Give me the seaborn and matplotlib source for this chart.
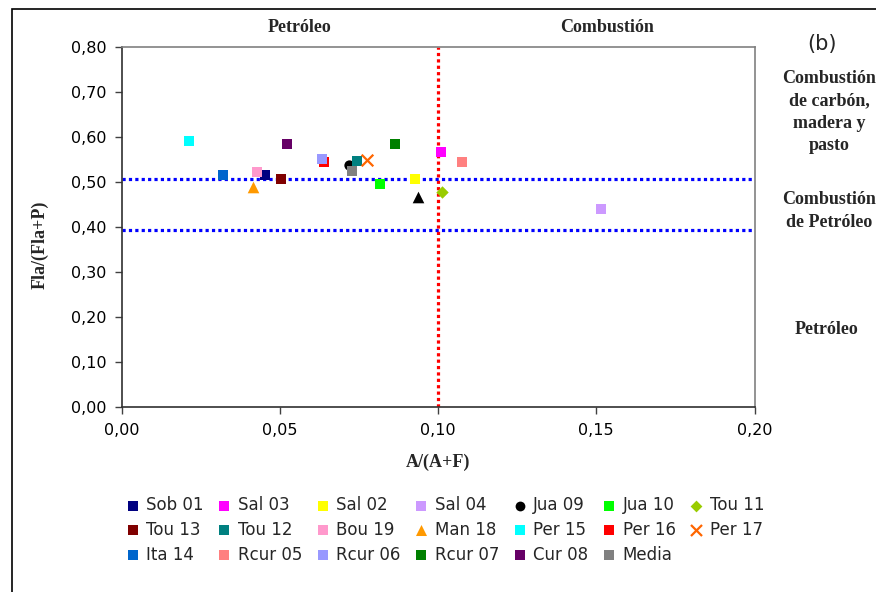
import matplotlib
matplotlib.use('Agg')
import matplotlib.pyplot as plt
import seaborn as sns
import numpy as np
import pandas as pd
from matplotlib.ticker import FuncFormatter
from matplotlib.patches import Rectangle

# ---------------- data ----------------
series = ['Sob 01', 'Sal 03', 'Sal 02', 'Sal 04', 'Jua 09', 'Jua 10', 'Tou 11',
          'Tou 13', 'Tou 12', 'Bou 19', 'Man 18', 'Per 15', 'Per 16', 'Per 17',
          'Ita 14', 'Rcur 05', 'Rcur 06', 'Rcur 07', 'Cur 08', 'Media']
x_vals = [0.0454, 0.1010, 0.0927, 0.1515, 0.0718, 0.0817, 0.1013,
          0.0505, 0.0744, 0.0428, 0.0415, 0.0212, 0.0640, 0.0776,
          0.0322, 0.1076, 0.0633, 0.0865, 0.0522, 0.0728]
y_vals = [0.514, 0.565, 0.507, 0.440, 0.536, 0.495, 0.476,
          0.507, 0.547, 0.522, 0.489, 0.590, 0.543, 0.548,
          0.514, 0.543, 0.550, 0.583, 0.583, 0.524]
colors = ['#000080', '#FF00FF', '#FFFF00', '#CC99FF', '#000000', '#00FF00', '#99CC00',
          '#800000', '#008080', '#FF99CC', '#FF9900', '#00FFFF', '#FF0000', '#FF6600',
          '#0066CC', '#FF8080', '#9999FF', '#008000', '#660066', '#808080']
markers = ['s', 's', 's', 's', 'o', 's', 'D',
           's', 's', 's', '^', 's', 's', 'x',
           's', 's', 's', 's', 's', 's']
# unlabelled point (black triangle)
extra_x = [0.0936]
extra_y = [0.467]

h_limits = [0.505, 0.392]
v_limit = [0.10]

x_ticks = [0.00, 0.05, 0.10, 0.15, 0.20]
y_ticks = [0.0, 0.1, 0.2, 0.3, 0.4, 0.5, 0.6, 0.7, 0.8]

# ---------------- figure ----------------
sns.set_theme(style='white')
plt.rcParams['font.family'] = ['DejaVu Sans']

W, H = 876, 592
fig = plt.figure(figsize=(W / 100, H / 100), dpi=100)
L, R, T, B = 121.5, 754.5, 46.7, 406.7
ax = fig.add_axes([L / W, 1 - B / H, (R - L) / W, (B - T) / H])
ax.set_facecolor('white')

for xv in v_limit:
    ax.axvline(xv, color='#FF0000', lw=2.3, ls=(0, (1, 1)), zorder=1)
for yv in h_limits:
    ax.axhline(yv, color='#0000FF', lw=2.3, ls=(0, (1, 1)), zorder=1)

sizes = {'s': 55, 'o': 55, 'D': 40, '^': 70, 'x': 70}
for name, xv, yv, c, m in zip(series, x_vals, y_vals, colors, markers):
    df = pd.DataFrame({'x': [xv], 'y': [yv]})
    kw = dict(linewidths=1.6) if m == 'x' else dict(linewidth=0)
    sns.scatterplot(data=df, x='x', y='y', marker=m, color=c, s=sizes[m],
                    label=name, ax=ax, zorder=3, **kw)
sns.scatterplot(x=extra_x, y=extra_y, marker='^', color='#000000', s=70,
                linewidth=0, ax=ax, zorder=3)

ax.set_xlim(0, 0.20)
ax.set_ylim(0, 0.80)
ax.set_xticks(x_ticks)
ax.set_yticks(y_ticks)
fmt = FuncFormatter(lambda v, p: f'{v:.2f}'.replace('.', ','))
ax.xaxis.set_major_formatter(fmt)
ax.yaxis.set_major_formatter(fmt)
ax.tick_params(axis='both', direction='out', length=5, width=1, color='#404040',
               labelsize=11.5, labelcolor='black')
ax.tick_params(axis='x', pad=7)
ax.tick_params(axis='y', pad=6)
ax.tick_params(bottom=True, left=True)
for side in ['left', 'bottom']:
    ax.spines[side].set_color('#303030')
    ax.spines[side].set_linewidth(1.2)
for side in ['top', 'right']:
    ax.spines[side].set_color('#808080')
    ax.spines[side].set_linewidth(1.2)
ax.set_xlabel('')
ax.set_ylabel('')

serif = ['Liberation Serif', 'DejaVu Serif']
fig.text(438 / W, 1 - 462 / H, 'A/(A+F)', ha='center', va='center',
         family=serif, fontweight='bold', fontsize=13)
fig.text(40 / W, 1 - 245 / H, 'Fla/(Fla+P)', ha='center', va='center',
         rotation=90, family=serif, fontweight='bold', fontsize=13)

fig.text(300 / W, 1 - 28 / H, 'Petróleo', ha='center', va='center',
         family=serif, fontweight='bold', fontsize=13)
fig.text(607 / W, 1 - 28 / H, 'Combustión', ha='center', va='center',
         family=serif, fontweight='bold', fontsize=13)
fig.text(822 / W, 1 - 44 / H, '(b)', ha='center', va='center', fontsize=15)
fig.text(829 / W, 1 - 112 / H, 'Combustión\nde carbón,\nmadera y\npasto',
         ha='center', va='center', family=serif, fontweight='bold',
         fontsize=13, linespacing=1.4)
fig.text(829 / W, 1 - 211 / H, 'Combustión\nde Petróleo', ha='center',
         va='center', family=serif, fontweight='bold', fontsize=13,
         linespacing=1.4)
fig.text(827 / W, 1 - 330 / H, 'Petróleo', ha='center', va='center',
         family=serif, fontweight='bold', fontsize=13)

# figure frame
fig.patches.append(Rectangle((12 / W, -0.1), 2.0, 1 - 9 / H + 0.1,
                             transform=fig.transFigure, fill=False,
                             edgecolor='black', linewidth=1.2))

# legend (row-major visual order)
handles, labels = ax.get_legend_handles_labels()
if ax.get_legend() is not None:
    ax.get_legend().remove()
ncol = 7
order = []
for j in range(ncol):
    i = j
    while i < len(labels):
        order.append(i)
        i += ncol
leg = fig.legend([handles[i] for i in order], [labels[i] for i in order],
                 ncol=ncol, loc='upper left', bbox_to_anchor=(126 / W, 1 - 496 / H),
                 frameon=False, fontsize=12, handlelength=0.8, handletextpad=0.4,
                 columnspacing=0.85, labelspacing=0.41, borderpad=0, borderaxespad=0,
                 markerscale=0.95)

fig.savefig('out.png', dpi=100)
